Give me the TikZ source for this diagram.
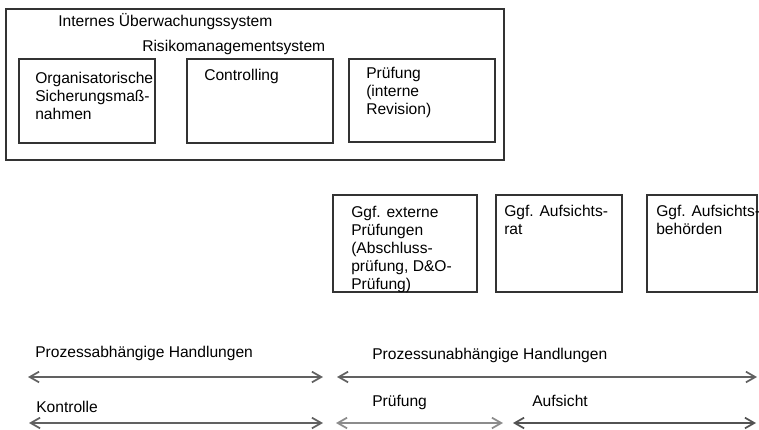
\documentclass[tikz,border=0pt]{standalone}
\usepackage{fontspec}
\setmainfont{Liberation Sans}
\usetikzlibrary{arrows.meta}
\begin{document}
\begin{tikzpicture}[x=0.75pt,y=-0.75pt,>={Straight Barb[length=7pt,width=8pt]},font=\fontsize{11.7}{13.4}\selectfont,
	kasten/.style={draw=black!80,line width=1pt},
	txt/.style={anchor=north west,inner sep=0pt,align=left},
	zeile/.style={anchor=base west,inner sep=0pt},
	pfeil/.style={<->,line width=1.3pt,color=black!62}]
	\useasboundingbox (0,0) rectangle (759,429);
	% Internes Ueberwachungssystem
	\draw[kasten] (6,9) rectangle (504,160);
	\node[zeile] (ius) at (58,26.5) {Internes Überwachungssystem};
	\node[zeile] (rms) at (142,51) {Risikomanagementsystem};
	\draw[kasten] (19,59) rectangle (155,143);
	\draw[kasten] (187,59) rectangle (333,143);
	\draw[kasten] (349,59) rectangle (495,142);
	\node[txt] (org) at (35,72) {Organisatorische\\Sicherungsmaß-\\nahmen};
	\node[zeile] (ctr) at (204,80) {Controlling};
	\node[txt] (rev) at (366,67) {Prüfung\\(interne\\Revision)};
	% externe Stellen
	\draw[kasten] (333,195) rectangle (477,292);
	\draw[kasten] (496,195) rectangle (622,292);
	\draw[kasten] (647,195) rectangle (757,292);
	\node[txt] (ext) at (351,206.4) {Ggf. externe\\Prüfungen\\(Abschluss-\\prüfung, D\&O-\\Prüfung)};
	\node[txt] (ar) at (504,205.4) {Ggf. Aufsichts-\\rat};
	\node[txt] (ab) at (656,205.4) {Ggf. Aufsichts-\\behörden};
	% Handlungen
	\node[zeile] (pab) at (35,357) {Prozessabhängige Handlungen};
	\node[zeile] (pun) at (372,359) {Prozessunabhängige Handlungen};
	\node[zeile] (kon) at (36,412) {Kontrolle};
	\node[zeile] (pru) at (372,406) {Prüfung};
	\node[zeile] (auf) at (532,406) {Aufsicht};
	\coordinate (pab-l) at (28,377); \coordinate (pab-r) at (323,377);
	\coordinate (pun-l) at (337,377); \coordinate (pun-r) at (757,377);
	\coordinate (kon-l) at (29,423); \coordinate (kon-r) at (323,423);
	\coordinate (pru-l) at (336,423); \coordinate (pru-r) at (503,423);
	\coordinate (auf-l) at (513,423); \coordinate (auf-r) at (756,423);
	\draw[pfeil] (pab-l) -- (pab-r);
	\draw[pfeil] (pun-l) -- (pun-r);
	\draw[pfeil] (kon-l) -- (kon-r);
	\draw[pfeil,color=black!45] (pru-l) -- (pru-r);
	\draw[pfeil,color=black!68] (auf-l) -- (auf-r);
\end{tikzpicture}
\end{document}
